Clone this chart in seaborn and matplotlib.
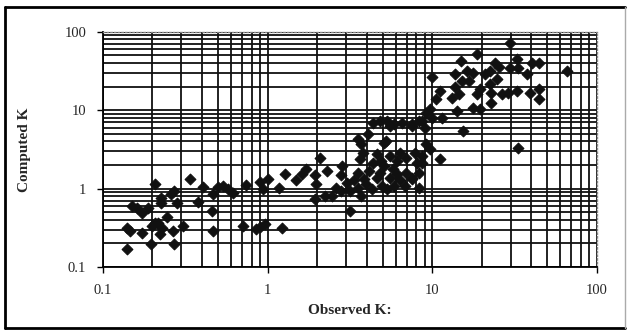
import numpy as np
import pandas as pd
import matplotlib
matplotlib.use("Agg")
import matplotlib.pyplot as plt
from matplotlib.lines import Line2D
from matplotlib.ticker import LogLocator, NullFormatter, FixedFormatter, FixedLocator
import seaborn as sns

# observed / computed K (log-log)
observed_low = [0.141, 0.141, 0.147, 0.172, 0.151, 0.162, 0.174, 0.187, 0.206, 0.198,
                0.206, 0.195, 0.221, 0.230, 0.224, 0.244, 0.261, 0.272, 0.284, 0.265,
                0.269, 0.305, 0.336, 0.376, 0.403, 0.457, 0.464, 0.464, 0.497, 0.533,
                0.572, 0.613, 0.705, 0.745, 0.857, 0.894, 0.933, 0.959, 1.0, 0.224,
                0.215, 0.894, 1.23]
computed_low = [0.171, 0.318, 0.291, 0.274, 0.607, 0.572, 0.494, 0.572, 1.16, 0.337,
                0.368, 0.199, 0.266, 0.318, 0.663, 0.439, 0.863, 0.943, 0.663, 0.291,
                0.199, 0.337, 1.34, 0.682, 1.06, 0.524, 0.863, 0.291, 1.06, 1.09,
                1.0, 0.889, 0.337, 1.12, 0.308, 1.23, 1.0, 0.357, 1.34, 0.767,
                0.368, 0.327, 0.318]

observed_mid = [1.17, 1.27, 1.48, 1.61, 1.72, 2.07, 2.31, 1.93, 1.98, 1.93,
                2.22, 2.48, 2.85, 2.81, 3.02, 3.15, 3.15, 3.37, 3.52, 3.62,
                3.78, 3.72, 3.52, 4.05, 4.34, 4.79, 5.28, 5.90, 6.60, 7.59,
                8.73, 5.13, 4.59, 4.92, 5.51, 6.07, 6.33, 6.98, 7.81, 8.73,
                9.23, 8.61, 7.49, 6.33, 5.51, 4.79, 4.16, 3.99, 4.28, 5.28,
                5.74, 6.98, 8.37, 8.37, 2.62, 2.81, 3.72, 4.59, 3.52, 5.51,
                7.59, 8.98, 5.21, 7.59, 8.14, 4.34, 6.07, 3.88, 5.13, 5.90,
                6.79, 4.99]
computed_mid = [1.03, 1.55, 1.27, 1.55, 1.80, 2.49, 1.70, 1.47, 1.16, 0.745,
                0.814, 0.814, 1.97, 1.47, 1.19, 0.943, 0.524, 1.27, 1.60, 2.42,
                2.88, 3.76, 4.35, 5.04, 6.97, 7.39, 7.39, 6.76, 6.97, 6.76,
                7.39, 3.87, 2.80, 2.28, 2.64, 2.28, 2.88, 2.49, 2.88, 2.64,
                3.76, 2.09, 1.34, 1.27, 1.38, 1.60, 1.70, 1.16, 1.0, 1.0,
                1.80, 1.60, 1.03, 1.60, 1.03, 0.943, 0.814, 1.38, 1.03, 6.38,
                6.38, 6.01, 4.10, 1.38, 2.09, 2.09, 1.55, 1.34, 1.97, 1.09,
                1.09, 1.09]

observed_high = [29.5, 32.5, 18.8, 14.9, 40.6, 44.8, 65.4, 10.0, 13.7, 16.2,
                 17.6, 16.8, 15.1, 23.9, 25.6, 22.3, 24.6, 29.5, 33.0, 37.4,
                 22.3, 19.4, 22.9, 26.7, 28.7, 32.5, 39.0, 44.8, 44.8, 11.1,
                 13.1, 14.6, 18.8, 22.9, 17.6, 19.4, 14.1, 10.6, 9.63, 9.23,
                 15.3, 33.0, 11.1, 9.63, 11.5, 10.0, 8.37, 20.8, 13.7]
computed_high = [71.1, 45.7, 51.5, 41.9, 40.6, 39.5, 32.1, 26.2, 29.4, 32.1,
                 30.3, 23.9, 23.9, 39.5, 35.1, 32.1, 25.4, 34.1, 34.1, 29.4,
                 21.9, 18.9, 16.8, 16.3, 16.8, 17.8, 16.8, 18.9, 14.1, 17.8,
                 14.5, 16.3, 16.3, 12.2, 10.8, 10.5, 9.9, 14.1, 10.5, 9.35,
                 5.51, 3.34, 2.42, 3.24, 8.07, 8.07, 7.39, 29.4, 19.5]

major_ticks = [0.1, 1, 10, 100]
tick_labels = ["0.1", "1", "10", "100"]

df = pd.DataFrame({
    "observed": observed_low + observed_mid + observed_high,
    "computed": computed_low + computed_mid + computed_high,
})

sns.set_style("white")
plt.rcParams["font.family"] = ["Liberation Serif", "DejaVu Serif"]

fig = plt.figure(figsize=(6.27, 3.32), dpi=100)
ax = fig.add_axes([0.164, 0.196, 0.788, 0.708])

ax.set_xscale("log")
ax.set_yscale("log")
ax.set_xlim(0.1, 100)
ax.set_ylim(0.1, 100)

# excel style log grid, major + minor
ax.xaxis.set_minor_locator(LogLocator(base=10, subs=np.arange(2, 10)))
ax.yaxis.set_minor_locator(LogLocator(base=10, subs=np.arange(2, 10)))
ax.xaxis.set_minor_formatter(NullFormatter())
ax.yaxis.set_minor_formatter(NullFormatter())
ax.grid(True, which="both", color="#101010", lw=1.3)
ax.set_axisbelow(True)

sns.scatterplot(data=df, x="observed", y="computed", marker="D", s=30,
                color="#111111", edgecolor="#111111", linewidth=0.8, ax=ax, zorder=3)

ax.xaxis.set_major_locator(FixedLocator(major_ticks))
ax.yaxis.set_major_locator(FixedLocator(major_ticks))
ax.xaxis.set_major_formatter(FixedFormatter(tick_labels))
ax.yaxis.set_major_formatter(FixedFormatter(tick_labels))
ax.tick_params(which="major", direction="out", length=4, width=1, color="black",
               labelsize=10.5, pad=8, bottom=True, left=True)
ax.tick_params(which="minor", length=0)

for side in ["left", "bottom"]:
    ax.spines[side].set_color("black")
    ax.spines[side].set_linewidth(1.3)
for side in ["top", "right"]:
    ax.spines[side].set_color("#888888")
    ax.spines[side].set_linestyle(":")
    ax.spines[side].set_linewidth(1.0)

ax.set_xlabel("Observed K:", fontweight="bold", fontsize=11, labelpad=5)
ax.set_ylabel("Computed K", fontweight="bold", fontsize=11, labelpad=24)

# outer chart frame
fig.add_artist(Line2D([0.008, 0.008], [0.012, 0.979], color="black", lw=2))
fig.add_artist(Line2D([0.008, 0.997], [0.979, 0.979], color="black", lw=2))
fig.add_artist(Line2D([0.008, 0.997], [0.012, 0.012], color="black", lw=2))
fig.add_artist(Line2D([0.997, 0.997], [0.012, 0.979], color="#aaaaaa", lw=1))

fig.savefig("out.png", dpi=100)
